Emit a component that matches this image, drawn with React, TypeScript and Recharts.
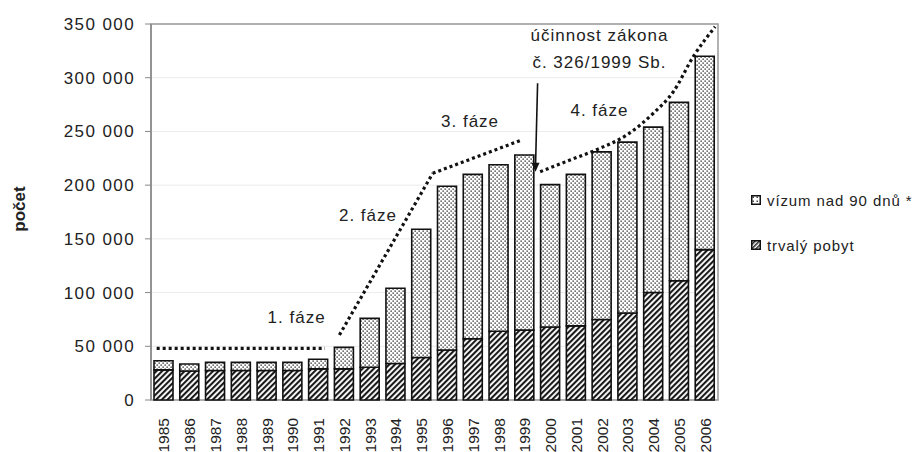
import React from "react";
import {
  ComposedChart,
  Bar,
  Line,
  XAxis,
  YAxis,
  CartesianGrid,
  ReferenceArea,
  ReferenceLine,
  ReferenceDot,
} from "recharts";

const years = [
  "1985", "1986", "1987", "1988", "1989", "1990", "1991", "1992", "1993", "1994", "1995",
  "1996", "1997", "1998", "1999", "2000", "2001", "2002", "2003", "2004", "2005", "2006",
];
const permanentStay = [
  28000, 27000, 27500, 27500, 27500, 27500, 29000, 29000, 30500, 34000, 39500,
  46500, 57000, 64000, 65000, 68000, 69000, 75000, 81000, 100000, 111000, 140000,
];
const longVisa = [
  8500, 6500, 7500, 7500, 7500, 7500, 9000, 20000, 45500, 70000, 119500,
  152500, 153000, 155000, 163000, 132500, 141000, 156000, 159000, 154000, 166000, 180000,
];
const yTicks = [0, 50000, 100000, 150000, 200000, 250000, 300000, 350000];

// trend lines, x in category units (category i spans i..i+1)
const phase1X = [0.22, 6.75];
const phase1Y = [48000, 48000];
const phase2X = [7.31, 10.93];
const phase2Y = [60500, 211000];
const phase3X = [10.93, 14.38];
const phase3Y = [211000, 242000];
const phase4X = [15.1, 16.26, 17.42, 18.46, 19.49, 20.27, 21.04, 21.89];
const phase4Y = [212500, 223400, 234300, 246700, 266900, 287000, 319600, 347500];

const notes = ["1. fáze", "2. fáze", "3. fáze", "4. fáze", "účinnost zákona", "č. 326/1999 Sb."];
const noteX = [5.65, 8.42, 12.38, 17.4, 17.4, 17.4];
const noteY = [77500, 172200, 260000, 270000, 339800, 315000];

const arrowX = [15.0, 14.92];
const arrowY = [294800, 212500];

const data = years.map((year, i) => ({ year, trvaly: permanentStay[i], vizum: longVisa[i] }));
const toPoints = (xs: number[], ys: number[]) => xs.map((x, i) => ({ x, y: ys[i] }));

const FONT = '"Liberation Sans", Arial, sans-serif';
const fmt = (v: number) => (v === 0 ? "0" : `${v / 1000} 000`);

function Patterns() {
  return (
    <defs>
      <pattern id="hatch" width="4" height="4" patternUnits="userSpaceOnUse" patternTransform="rotate(45)">
        <rect width="4" height="4" fill="#fff" />
        <rect width="2.1" height="4" fill="#1a1a1a" />
      </pattern>
      <pattern id="dots" width="4" height="4" patternUnits="userSpaceOnUse">
        <rect width="4" height="4" fill="#fff" />
        <rect x="0.4" y="0.4" width="1.5" height="1.5" fill="#555" />
        <rect x="2.4" y="2.4" width="1.5" height="1.5" fill="#555" />
      </pattern>
    </defs>
  );
}

const YearTick = (props: any) => {
  const { x, y, payload } = props;
  const ty = y + 10;
  return (
    <text
      x={x}
      y={ty}
      transform={`rotate(-90 ${x} ${ty})`}
      textAnchor="end"
      dy="0.36em"
      fontSize={15.5}
      fontFamily={FONT}
      fill="#222"
    >
      {payload.value}
    </text>
  );
};

const Arrow = (props: any) => {
  const { x1, y1, x2, y2 } = props;
  if (x1 == null) return null;
  return (
    <g>
      <line x1={x1} y1={y1} x2={x2} y2={y2 - 6} stroke="#111" strokeWidth={1.6} />
      <polygon points={`${x2 - 4},${y2 - 9} ${x2 + 4},${y2 - 9} ${x2},${y2}`} fill="#111" />
    </g>
  );
};

const dotted = { stroke: "#111", strokeWidth: 3.2, strokeDasharray: "3 3" };

function LegendBox() {
  const items = [
    { fill: "url(#dotsL)", label: "vízum nad 90 dnů *" },
    { fill: "url(#hatchL)", label: "trvalý pobyt" },
  ];
  return (
    <div style={{ position: "absolute", left: 751, top: 190, fontFamily: FONT, fontSize: 15, letterSpacing: 0.9, color: "#222" }}>
      <svg width="0" height="0" style={{ position: "absolute" }}>
        <defs>
          <pattern id="hatchL" width="3" height="3" patternUnits="userSpaceOnUse" patternTransform="rotate(45)">
            <rect width="3" height="3" fill="#fff" />
            <rect width="1.5" height="3" fill="#222" />
          </pattern>
          <pattern id="dotsL" width="4" height="4" patternUnits="userSpaceOnUse">
            <rect width="4" height="4" fill="#fff" />
            <rect x="1.5" y="1.5" width="1.5" height="1.5" fill="#444" />
          </pattern>
        </defs>
      </svg>
      {items.map((it) => (
        <div key={it.label} style={{ display: "flex", alignItems: "center", height: 20, marginBottom: 25 }}>
          <svg width="10" height="10" style={{ marginRight: 6 }}>
            <rect x="0.75" y="0.75" width="8.5" height="8.5" fill={it.fill} stroke="#111" strokeWidth={1.5} />
          </svg>
          <span>{it.label}</span>
        </div>
      ))}
    </div>
  );
}

export default function App() {
  return (
    <div style={{ position: "absolute", left: 0, top: 0, width: 923, height: 452, background: "#fff" }}>
      <ComposedChart
        width={923}
        height={452}
        data={data}
        margin={{ top: 24, right: 205, left: 0, bottom: 0 }}
        barSize={19}
      >
        <Patterns />
        <CartesianGrid vertical={false} stroke="#ebebeb" strokeWidth={1} />
        <XAxis
          xAxisId="num"
          type="number"
          dataKey="x"
          domain={[0, 22]}
          ticks={Array.from({ length: 23 }, (_, i) => i)}
          allowDataOverflow
          height={0}
          tick={false}
          tickLine={{ stroke: "#888" }}
          tickSize={5}
          axisLine={{ stroke: "#888", strokeWidth: 1.5 }}
        />
        <XAxis
          xAxisId="cat"
          dataKey="year"
          height={52}
          axisLine={false}
          tickLine={false}
          interval={0}
          tick={<YearTick />}
        />
        <YAxis
          domain={[0, 350000]}
          ticks={yTicks}
          width={151}
          tickFormatter={fmt}
          tickSize={6}
          tickMargin={10}
          axisLine={{ stroke: "#888", strokeWidth: 1.5 }}
          tickLine={{ stroke: "#888" }}
          tick={{ fontSize: 17, fontFamily: FONT, fill: "#222", letterSpacing: 1.4 }}
          label={{
            content: (p: any) => {
              const vb = p.viewBox;
              const cx = 19;
              const cy = vb.y + vb.height / 2 - 3;
              return (
                <text
                  x={cx}
                  y={cy}
                  transform={`rotate(-90 ${cx} ${cy})`}
                  textAnchor="middle"
                  dy="0.36em"
                  fontSize={17}
                  fontWeight="bold"
                  fontFamily={FONT}
                  fill="#222"
                >
                  počet
                </text>
              );
            },
          }}
        />
        <ReferenceArea xAxisId="num" y1={0} y2={350000} fill="none" stroke="#999" strokeWidth={1.5} ifOverflow="visible" />
        <Bar xAxisId="cat" dataKey="trvaly" stackId="a" fill="url(#hatch)" stroke="#111" strokeWidth={1.6} isAnimationActive={false} />
        <Bar xAxisId="cat" dataKey="vizum" stackId="a" fill="url(#dots)" stroke="#111" strokeWidth={1.6} isAnimationActive={false} />
        {[
          [phase1X, phase1Y],
          [phase2X, phase2Y],
          [phase3X, phase3Y],
        ].map(([xs, ys], i) => (
          <Line
            key={i}
            xAxisId="num"
            data={toPoints(xs, ys)}
            dataKey="y"
            type="linear"
            dot={false}
            activeDot={false}
            {...dotted}
            isAnimationActive={false}
          />
        ))}
        <Line
          xAxisId="num"
          data={toPoints(phase4X, phase4Y)}
          dataKey="y"
          type="monotone"
          dot={false}
          activeDot={false}
          {...dotted}
          isAnimationActive={false}
        />
        <ReferenceLine
          xAxisId="num"
          segment={[
            { x: arrowX[0], y: arrowY[0] },
            { x: arrowX[1], y: arrowY[1] },
          ]}
          shape={<Arrow />}
          ifOverflow="visible"
        />
        {notes.map((t, i) => (
          <ReferenceDot
            key={t}
            xAxisId="num"
            x={noteX[i]}
            y={noteY[i]}
            ifOverflow="visible"
            shape={(p: any) => (
              <text
                x={p.cx}
                y={p.cy}
                textAnchor="middle"
                dy="0.36em"
                fontSize={17}
                fontFamily={FONT}
                letterSpacing={1}
                fill="#222"
              >
                {t}
              </text>
            )}
          />
        ))}
      </ComposedChart>
      <LegendBox />
    </div>
  );
}
